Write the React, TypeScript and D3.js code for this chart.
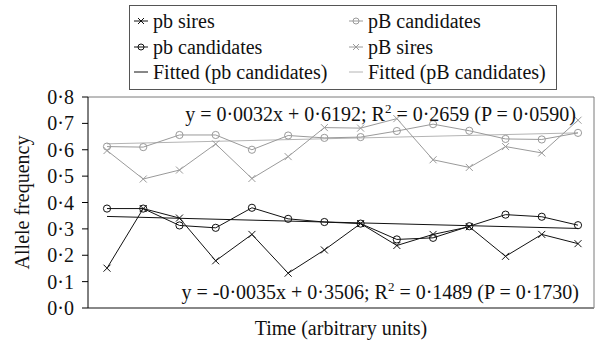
import React from "react";
import * as d3 from "d3";

const timePoints = [1, 2, 3, 4, 5, 6, 7, 8, 9, 10, 11, 12, 13, 14];
const pbSires = [0.151, 0.377, 0.341, 0.179, 0.279, 0.132, 0.22, 0.32, 0.237, 0.279, 0.308, 0.196, 0.279, 0.244];
const pbCandidates = [0.377, 0.377, 0.313, 0.304, 0.38, 0.338, 0.326, 0.32, 0.26, 0.266, 0.31, 0.354, 0.346, 0.314];
const pBCandidates = [0.612, 0.61, 0.656, 0.656, 0.6, 0.654, 0.645, 0.648, 0.671, 0.697, 0.672, 0.641, 0.639, 0.664];
const pBSires = [0.597, 0.489, 0.523, 0.622, 0.491, 0.574, 0.684, 0.682, 0.718, 0.562, 0.533, 0.612, 0.588, 0.712];
const fitPb = { slope: -0.0035, intercept: 0.3506 };
const fitPB = { slope: 0.0032, intercept: 0.6192 };
const yTicks = [0, 0.1, 0.2, 0.3, 0.4, 0.5, 0.6, 0.7, 0.8];
const eqPB = ["y = 0·0032x + 0·6192; R", "2", " = 0·2659 (P = 0·0590)"];
const eqPb = ["y = -0·0035x + 0·3506; R", "2", " = 0·1489 (P = 0·1730)"];

const FONT = "'Liberation Serif', 'Times New Roman', serif";
const BLACK = "#111";
const GREY = "#9a9a9a";
const GREYFIT = "#b4b4b4";

const left = 88, right = 594, top = 97, bottom = 308;

const x = d3.scalePoint<number>().domain(timePoints).range([107, 578]);
const y = d3.scaleLinear().domain([0, 0.8]).range([bottom, top]);

const fmt = (v: number) => v.toFixed(1).replace(".", "·");

function XMark({ cx, cy, s, color }: { cx: number; cy: number; s: number; color: string }) {
  return (
    <path d={`M${cx - s},${cy - s}L${cx + s},${cy + s}M${cx - s},${cy + s}L${cx + s},${cy - s}`} stroke={color} strokeWidth={1} fill="none" />
  );
}

function Series({ values, color, marker }: { values: number[]; color: string; marker: "x" | "o" }) {
  const line = d3.line<number>().x((_, i) => x(timePoints[i])!).y((d) => y(d));
  return (
    <g>
      <path d={line(values)!} fill="none" stroke={color} strokeWidth={1} />
      {values.map((v, i) =>
        marker === "x" ? (
          <XMark key={i} cx={x(timePoints[i])!} cy={y(v)} s={3.5} color={color} />
        ) : (
          <circle key={i} cx={x(timePoints[i])!} cy={y(v)} r={3.6} fill="none" stroke={color} strokeWidth={1} />
        )
      )}
    </g>
  );
}

function Fit({ fit, color }: { fit: { slope: number; intercept: number }; color: string }) {
  const t0 = timePoints[0], t1 = timePoints[timePoints.length - 1];
  return (
    <line x1={x(t0)} x2={x(t1)} y1={y(fit.intercept + fit.slope * t0)} y2={y(fit.intercept + fit.slope * t1)} stroke={color} strokeWidth={1} />
  );
}

function LegendItem({ lx, ly, color, marker, label }: { lx: number; ly: number; color: string; marker: "x" | "o" | "none"; label: string }) {
  return (
    <g>
      <line x1={lx} x2={lx + 14} y1={ly} y2={ly} stroke={color} strokeWidth={1} />
      {marker === "x" && <XMark cx={lx + 7} cy={ly} s={3} color={color} />}
      {marker === "o" && <circle cx={lx + 7} cy={ly} r={3} fill="none" stroke={color} strokeWidth={1} />}
      <text x={lx + 19} y={ly + 7} fontFamily={FONT} fontSize={20} fill="#111">{label}</text>
    </g>
  );
}

function Eq({ parts, xr, yb }: { parts: string[]; xr: number; yb: number }) {
  return (
    <text x={xr} y={yb} textAnchor="end" fontFamily={FONT} fontSize={20} fill="#111">
      <tspan>{parts[0]}</tspan>
      <tspan dy={-8} fontSize={13}>{parts[1]}</tspan>
      <tspan dy={8}>{parts[2]}</tspan>
    </text>
  );
}

export default function App() {
  return (
    <svg width={596} height={347} style={{ position: "absolute", left: 0, top: 0, background: "#fff" }}>
      <rect x={0} y={0} width={596} height={347} fill="#fff" />
      {/* plot frame */}
      <line x1={left} x2={right} y1={top} y2={top} stroke="#7a7a7a" strokeWidth={1} />
      <line x1={right} x2={right} y1={top} y2={bottom} stroke="#7a7a7a" strokeWidth={1} />
      <line x1={left} x2={right} y1={bottom} y2={bottom} stroke="#888" strokeWidth={2} />
      {/* y axis */}
      <line x1={left} x2={left} y1={top} y2={bottom} stroke="#000" strokeWidth={1} />
      {yTicks.map((t) => (
        <g key={t}>
          <line x1={left - 6} x2={left} y1={y(t)} y2={y(t)} stroke="#000" strokeWidth={1} />
          <text x={74} y={y(t) + 7} textAnchor="end" fontFamily={FONT} fontSize={20} fill="#111">{fmt(t)}</text>
        </g>
      ))}
      <text transform={`translate(29,${(top + bottom) / 2}) rotate(-90)`} textAnchor="middle" fontFamily={FONT} fontSize={20} fill="#111">Allele frequency</text>
      <text x={(left + right) / 2} y={335} textAnchor="middle" fontFamily={FONT} fontSize={20} fill="#111">Time (arbitrary units)</text>

      <Fit fit={fitPB} color={GREYFIT} />
      <Series values={pBCandidates} color={GREY} marker="o" />
      <Series values={pBSires} color={GREY} marker="x" />
      <Fit fit={fitPb} color={BLACK} />
      <Series values={pbCandidates} color={BLACK} marker="o" />
      <Series values={pbSires} color={BLACK} marker="x" />

      <Eq parts={eqPB} xr={576} yb={121} />
      <Eq parts={eqPb} xr={579} yb={299} />

      {/* legend */}
      <rect x={129.5} y={5.5} width={427} height={84} fill="#fff" stroke="#555" strokeWidth={1} />
      <LegendItem lx={134} ly={21} color={BLACK} marker="x" label="pb sires" />
      <LegendItem lx={134} ly={47} color={BLACK} marker="o" label="pb candidates" />
      <LegendItem lx={134} ly={72} color={BLACK} marker="none" label="Fitted (pb candidates)" />
      <LegendItem lx={349} ly={21} color={GREY} marker="o" label="pB candidates" />
      <LegendItem lx={349} ly={47} color={GREY} marker="x" label="pB sires" />
      <LegendItem lx={349} ly={72} color={GREYFIT} marker="none" label="Fitted (pB candidates)" />
    </svg>
  );
}
